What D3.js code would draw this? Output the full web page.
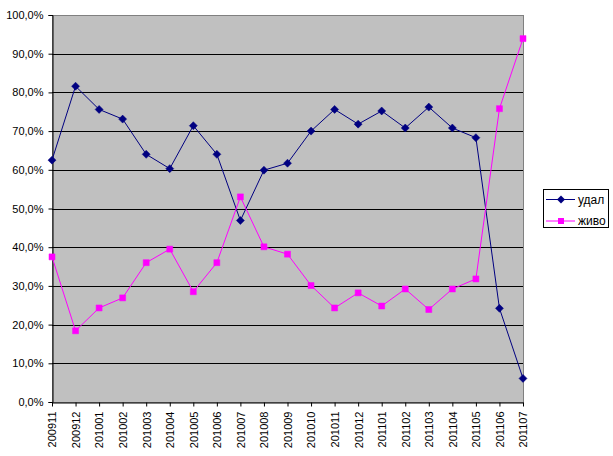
<!DOCTYPE html>
<html>
<head>
<meta charset="utf-8">
<script src="https://cdn.jsdelivr.net/npm/d3@7"></script>
<style>
  body { margin: 0; background: #fff; }
  svg text { font-family: "Liberation Sans", Arial, sans-serif; font-size: 11px; fill: #000; }
</style>
</head>
<body>
<svg id="chart" width="613" height="456"></svg>
<script>
const categories = ["200911", "200912", "201001", "201002", "201003", "201004", "201005",
    "201006", "201007", "201008", "201009", "201010", "201011", "201012", "201101",
    "201102", "201103", "201104", "201105", "201106", "201107"];
const udal = [62.5, 81.6, 75.6, 73.1, 64.0, 60.3, 71.4, 64.0, 46.9, 59.9, 61.7,
    70.0, 75.6, 71.8, 75.2, 70.8, 76.2, 70.8, 68.3, 24.2, 6.1];
const zhivo = [37.5, 18.4, 24.3, 26.9, 36.0, 39.5, 28.5, 36.0, 53.0, 40.1, 38.2,
    30.1, 24.3, 28.2, 24.8, 29.2, 23.9, 29.2, 31.8, 75.8, 93.9];
const yTicks = [0, 10, 20, 30, 40, 50, 60, 70, 80, 90, 100];
const seriesNames = ["удал", "живо"];

let chart = d3.select("#chart"),
    margin = {top: 15, left: 52},
    width = 471,
    height = 387;

let x = d3.scalePoint()
    .domain(categories)
    .range([0, width]);

let y = d3.scaleLinear()
    .domain([0, 100])
    .range([height, 0]);

let fmt = d => d.toFixed(1).replace(".", ",") + "%";

// excel-like diamond, as wide as it is tall
let diamond = {
    draw: function(ctx, size) {
        let r = Math.sqrt(size / 2);
        ctx.moveTo(0, -r);
        ctx.lineTo(r, 0);
        ctx.lineTo(0, r);
        ctx.lineTo(-r, 0);
        ctx.closePath();
    }
};

let focus = chart.append("g")
    .attr("transform", "translate(" + margin.left + "," + margin.top + ")");

// plot area
focus.append("rect")
    .attr("width", width)
    .attr("height", height)
    .attr("fill", "#c0c0c0")
    .attr("stroke", "#808080")
    .attr("shape-rendering", "crispEdges");

// grid lines
focus.append("g")
    .selectAll("line")
    .data(yTicks.filter(d => d > 0 && d < 100))
    .enter()
    .append("line")
    .attr("x1", 0)
    .attr("x2", width)
    .attr("y1", d => Math.round(y(d)) + 0.5)
    .attr("y2", d => Math.round(y(d)) + 0.5)
    .attr("stroke", "#000");

// y axis
let yAxis = focus.append("g")
    .attr("transform", "translate(0.5,0)")
    .call(d3.axisLeft(y).tickValues(yTicks).tickFormat(fmt).tickSize(4).tickPadding(5));
yAxis.select(".domain").attr("stroke", "#000");
yAxis.selectAll(".tick line").attr("stroke", "#000");
yAxis.selectAll("text").style("font-size", "11px");

// x axis
let xAxis = focus.append("g")
    .attr("transform", "translate(0," + (height + 0.5) + ")")
    .call(d3.axisBottom(x).tickSize(4).tickSizeOuter(0));
xAxis.select(".domain").attr("stroke", "#000");
xAxis.selectAll(".tick line").attr("stroke", "#000");
xAxis.selectAll("text")
    .attr("transform", "rotate(-90)")
    .attr("text-anchor", "end")
    .attr("x", -9)
    .attr("y", 0)
    .attr("dy", "0.35em")
    .style("font-size", "11px");

let series = [
    {name: seriesNames[0], values: udal, color: "#000080", marker: diamond, size: 32},
    {name: seriesNames[1], values: zhivo, color: "#ff00ff", marker: d3.symbolSquare, size: 36}
];

let line = d3.line()
    .x((d, i) => x(categories[i]))
    .y(d => y(d));

series.forEach(function(s) {
    focus.append("path")
        .datum(s.values)
        .attr("fill", "none")
        .attr("stroke", s.color)
        .attr("stroke-width", 1)
        .attr("d", line);
});

series.forEach(function(s) {
    focus.selectAll(null)
        .data(s.values)
        .enter()
        .append("path")
        .attr("d", d3.symbol().type(s.marker).size(s.size))
        .attr("transform", (d, i) => "translate(" + x(categories[i]) + "," + y(d) + ")")
        .attr("fill", s.color)
        .attr("stroke", s.color)
        .attr("stroke-width", 0.5);
});

// legend
let legend = chart.append("g")
    .attr("transform", "translate(543,189)");
legend.append("rect")
    .attr("x", 0.5)
    .attr("y", 0.5)
    .attr("width", 65)
    .attr("height", 38)
    .attr("fill", "#fff")
    .attr("stroke", "#000");
series.forEach(function(s, i) {
    let ly = 10.5 + i * 21.5;
    legend.append("line")
        .attr("x1", 3)
        .attr("x2", 32)
        .attr("y1", ly)
        .attr("y2", ly)
        .attr("stroke", s.color);
    legend.append("path")
        .attr("d", d3.symbol().type(s.marker).size(s.size))
        .attr("transform", "translate(18," + ly + ")")
        .attr("fill", s.color);
    legend.append("text")
        .attr("x", 35)
        .attr("y", ly)
        .attr("dy", "0.35em")
        .style("font-size", "12px")
        .text(s.name);
});
</script>
</body>
</html>
